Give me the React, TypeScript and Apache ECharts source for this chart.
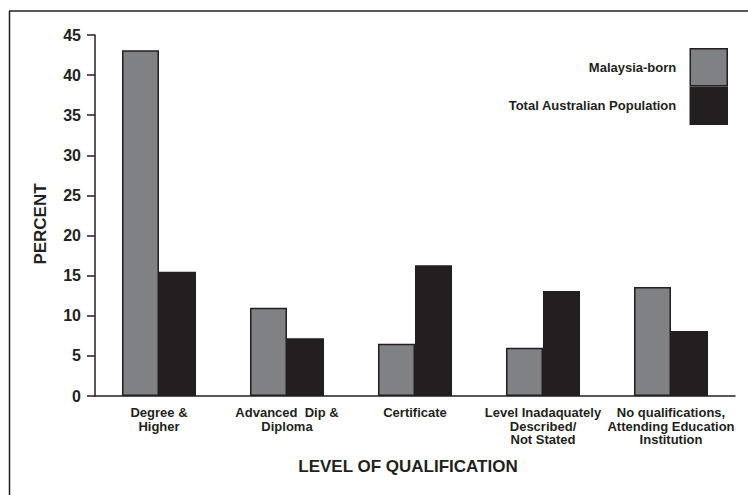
import React, { useEffect, useRef } from "react";
import * as echarts from "echarts";

const categories = [
  "Degree &\nHigher",
  "Advanced  Dip &\nDiploma",
  "Certificate",
  "Level Inadaquately\nDescribed/\nNot Stated",
  "No qualifications,\nAttending Education\nInstitution",
];
const malaysiaBorn = [43.1, 11.0, 6.5, 6.0, 13.6];
const totalAustralian = [15.5, 7.2, 16.3, 13.1, 8.1];
const seriesNames = ["Malaysia-born", "Total Australian Population"];
const yTicks = { min: 0, max: 45, interval: 5 };

const FONT = "'Liberation Sans', Arial, sans-serif";

export default function App() {
  const ref = useRef<HTMLDivElement>(null);
  useEffect(() => {
    if (!ref.current) return;
    const chart = echarts.init(ref.current, undefined, { renderer: "svg" });
    chart.setOption({
      animation: false,
      backgroundColor: "#ffffff",
      textStyle: { fontFamily: FONT },
      grid: { left: 95, right: 13, top: 35, bottom: 99 },
      legend: {
        orient: "vertical",
        right: 20,
        top: 48,
        padding: 0,
        align: "right",
        itemWidth: 37,
        itemHeight: 37,
        itemGap: 0,
        icon: "rect",
        selectedMode: false,
        itemStyle: { borderColor: "#231f20", borderWidth: 1.5 },
        textStyle: { fontFamily: FONT, fontSize: 13, fontWeight: "bold", color: "#231f20", padding: [0, 9, 0, 0] },
        data: seriesNames,
      },
      xAxis: {
        type: "category",
        data: categories,
        axisLine: { show: true, lineStyle: { color: "#231f20", width: 1.5 } },
        axisTick: { show: false },
        axisLabel: {
          interval: 0,
          margin: 10,
          fontFamily: FONT,
          fontSize: 13,
          fontWeight: "bold",
          color: "#231f20",
          lineHeight: 13.5,
        },
      },
      yAxis: {
        type: "value",
        min: yTicks.min,
        max: yTicks.max,
        interval: yTicks.interval,
        splitLine: { show: false },
        axisLine: { show: true, lineStyle: { color: "#231f20", width: 1.5 } },
        axisTick: { show: true, length: 8, lineStyle: { color: "#231f20", width: 1.5 } },
        axisLabel: { margin: 14, fontFamily: FONT, fontSize: 16, fontWeight: "bold", color: "#231f20" },
      },
      series: [
        {
          name: seriesNames[0],
          type: "bar",
          data: malaysiaBorn,
          barWidth: 37,
          barGap: "0%",
          itemStyle: { color: "#808184", borderColor: "#231f20", borderWidth: 1.5 },
        },
        {
          name: seriesNames[1],
          type: "bar",
          data: totalAustralian,
          barWidth: 37,
          barGap: "0%",
          itemStyle: { color: "#231f20", borderColor: "#231f20", borderWidth: 1.5 },
        },
      ],
      graphic: [
        {
          type: "line",
          shape: { x1: 9, y1: 11, x2: 748, y2: 11 },
          style: { stroke: "#231f20", lineWidth: 1.5 },
        },
        {
          type: "line",
          shape: { x1: 9.5, y1: 11, x2: 9.5, y2: 495 },
          style: { stroke: "#231f20", lineWidth: 1.5 },
        },
        {
          type: "text",
          x: 40,
          y: 224,
          rotation: Math.PI / 2,
          style: {
            text: "PERCENT",
            fontFamily: FONT,
            fontSize: 17,
            fontWeight: "bold",
            fill: "#231f20",
            align: "center",
            verticalAlign: "middle",
          },
        },
        {
          type: "text",
          x: 408,
          y: 466,
          style: {
            text: "LEVEL OF QUALIFICATION",
            fontFamily: FONT,
            fontSize: 17,
            fontWeight: "bold",
            fill: "#231f20",
            align: "center",
            verticalAlign: "middle",
          },
        },
      ],
    });
    return () => chart.dispose();
  }, []);
  return <div ref={ref} style={{ width: 748, height: 495, position: "absolute", left: 0, top: 0 }} />;
}
